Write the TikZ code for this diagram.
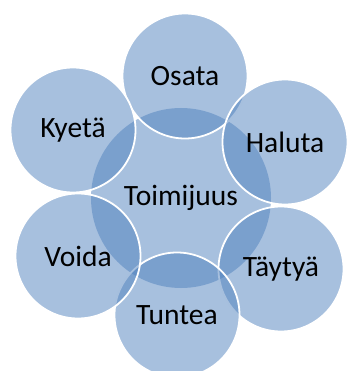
\documentclass[tikz,border=0pt]{standalone}
\usepackage{fontspec}
\setmainfont{Carlito}
\definecolor{accent}{HTML}{4F81BD}
\begin{document}
\begin{tikzpicture}[x=1pt,y=-1pt,
  bubble/.style={circle, inner sep=0pt, minimum size=125pt, fill=accent, fill opacity=0.5, text opacity=1, draw=white, line width=1.8pt, font=\fontsize{29.5}{31}\selectfont, text=black},
  core/.style={circle, inner sep=0pt, minimum size=180pt, fill=accent, fill opacity=0.5, text opacity=1, font=\fontsize{29.5}{31}\selectfont, text=black}]
\useasboundingbox (0,0) rectangle (346,371);
\node[core] (toimijuus) at (181,198) {Toimijuus};
\node[bubble] (osata) at (185,76) {Osata};
\node[bubble] (haluta) at (285,142) {Haluta};
\node[bubble] (taytya) at (281,269) {Täytyä};
\node[bubble] (tuntea) at (177,315) {Tuntea};
\node[bubble] (voida) at (78,256) {Voida};
\node[bubble] (kyeta) at (73,130) {Kyetä};
\end{tikzpicture}
\end{document}
